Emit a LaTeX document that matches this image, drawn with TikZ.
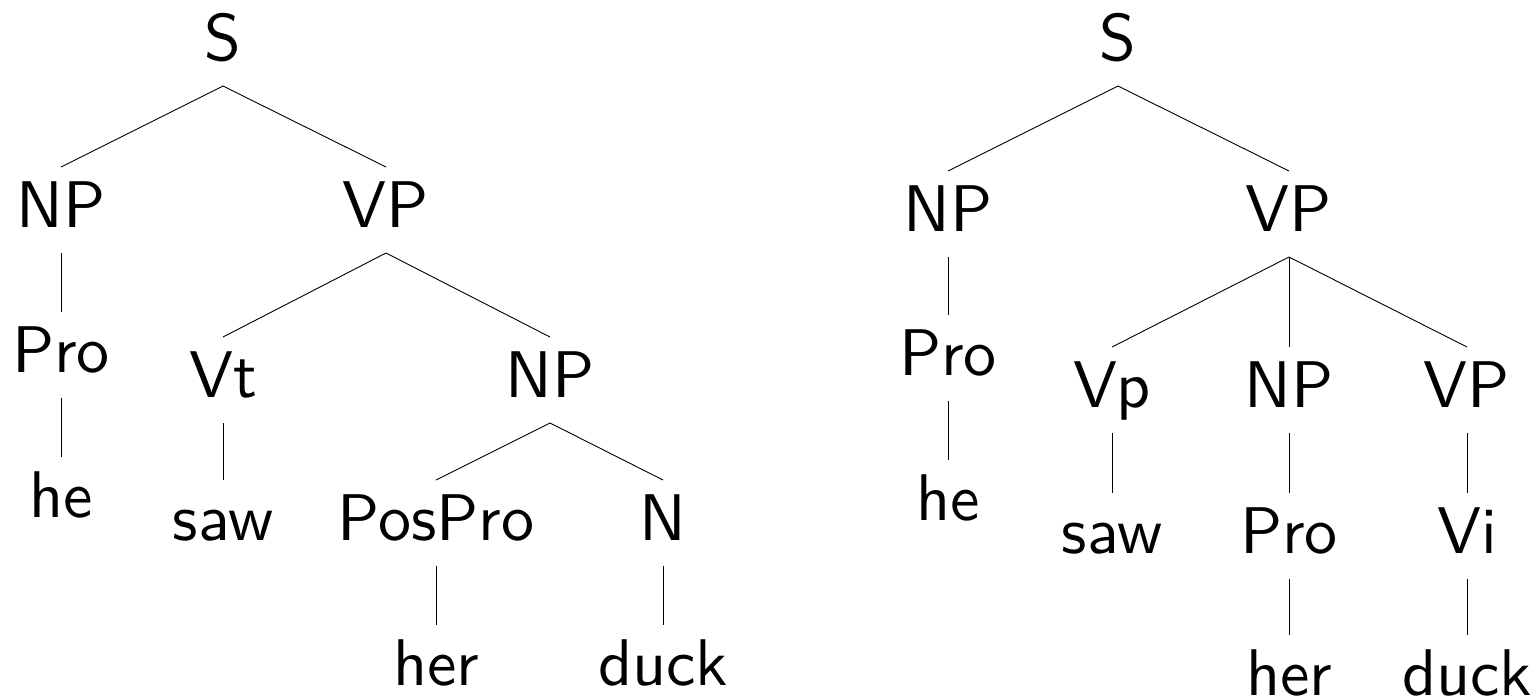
\documentclass[tikz,border=0pt]{standalone}
\font\treefont="[lmsans10-regular]:+tlig;" at 66pt
\begin{document}
\begin{tikzpicture}[x=1pt,y=1pt,
  lbl/.style={anchor=base,inner sep=0pt,font=\treefont},
  br/.style={line width=0.9pt,black}]
\useasboundingbox (0,0) rectangle (1536,-699);
% left tree
\node[lbl] (lS) at (223,-60) {S};
\node[lbl] (lNP) at (61,-227) {NP};
\node[lbl] (lVP) at (386,-227) {VP};
\node[lbl] (lPro) at (61,-372) {Pro};
\node[lbl] (lhe) at (61,-517) {he};
\node[lbl] (lVt) at (223,-397) {Vt};
\node[lbl] (lNPb) at (550,-397) {NP};
\node[lbl] (lsaw) at (223,-540) {saw};
\node[lbl] (lPos) at (436,-540) {PosPro};
\node[lbl] (lN) at (663,-540) {N};
\node[lbl] (lher) at (436,-685) {her};
\node[lbl] (lduck) at (663,-685) {duck};
% right tree
\node[lbl] (rS) at (1118,-60) {S};
\node[lbl] (rNP) at (948,-231) {NP};
\node[lbl] (rVP) at (1289,-231) {VP};
\node[lbl] (rPro) at (948,-375) {Pro};
\node[lbl] (rhe) at (948,-520) {he};
\node[lbl] (rVp) at (1112,-407) {Vp};
\node[lbl] (rNPb) at (1289,-407) {NP};
\node[lbl] (rVPb) at (1467,-407) {VP};
\node[lbl] (rsaw) at (1112,-553) {saw};
\node[lbl] (rProb) at (1289,-553) {Pro};
\node[lbl] (rVi) at (1467,-553) {Vi};
\node[lbl] (rher) at (1289,-695) {her};
\node[lbl] (rduck) at (1467,-695) {duck};
% connectors
\foreach \p/\c in {lS/lNP,lS/lVP,lNP/lPro,lPro/lhe,lVP/lVt,lVP/lNPb,lVt/lsaw,lNPb/lPos,lNPb/lN,lPos/lher,lN/lduck,
  rS/rNP,rS/rVP,rNP/rPro,rPro/rhe,rVP/rVp,rVP/rNPb,rVP/rVPb,rVp/rsaw,rNPb/rProb,rVPb/rVi,rProb/rher,rVi/rduck}
  \draw[br] ([yshift=-26pt]\p.base) -- ([yshift=60pt]\c.base);
\end{tikzpicture}
\end{document}
